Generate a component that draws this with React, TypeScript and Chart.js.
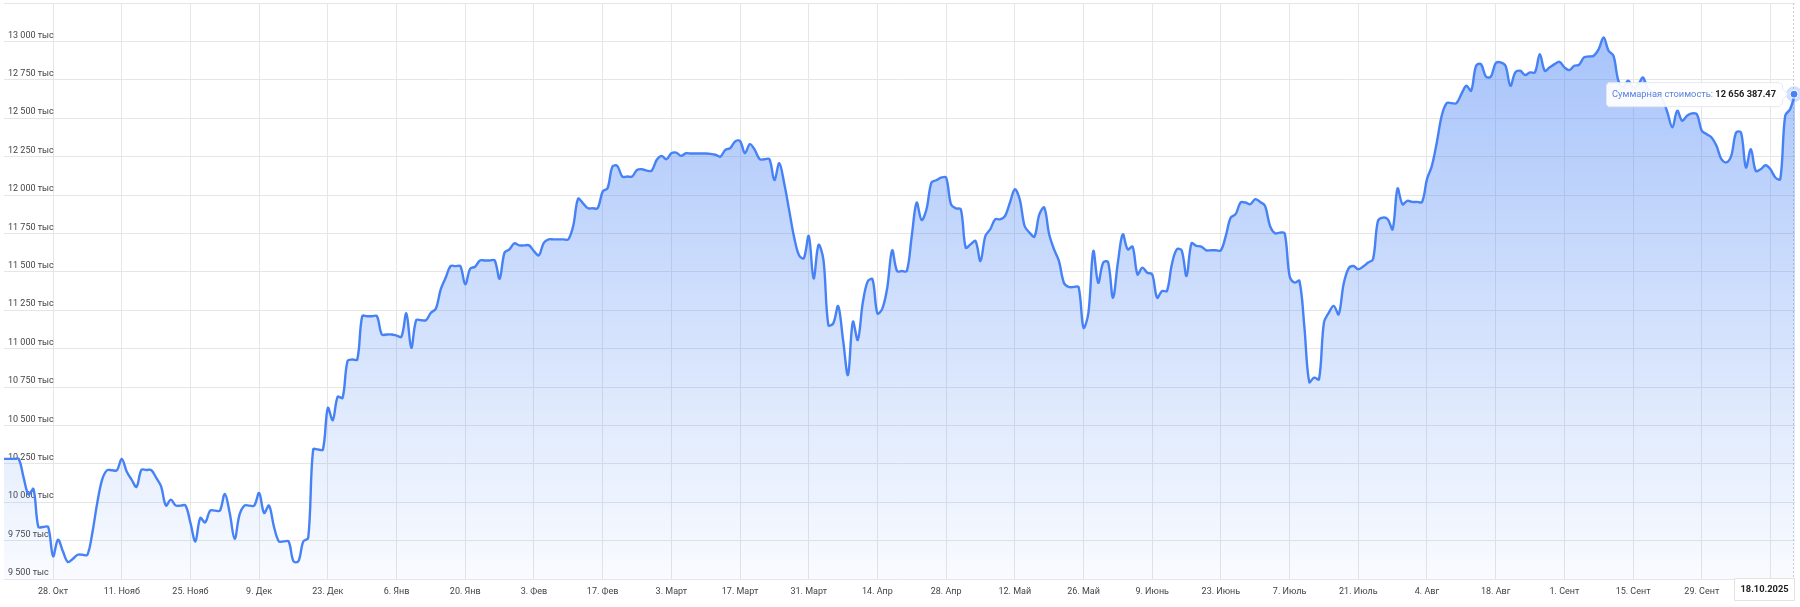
import React, { useEffect, useRef } from 'react';
import { Chart, registerables } from 'chart.js';

Chart.register(...registerables);

// Daily portfolio value (thousand RUB), one point per day from 18.10.2024 to 18.10.2025
const values: number[] = [
  10282, 10282, 10282, 10282, 10160, 10050, 10086, 9839, 9839, 9839,
  9648, 9756, 9680, 9611, 9630, 9658, 9658, 9658, 9800, 9995,
  10147, 10208, 10208, 10208, 10282, 10200, 10147, 10100, 10210, 10210,
  10210, 10160, 10104, 9978, 10017, 9978, 9978, 9978, 9865, 9745,
  9897, 9869, 9945, 9945, 9945, 10054, 9930, 9761, 9919, 9978,
  9978, 9978, 10060, 9930, 9978, 9843, 9745, 9745, 9745, 9615,
  9615, 9745, 9767, 10343, 10343, 10343, 10614, 10534, 10686, 10679,
  10918, 10929, 10929, 11211, 11211, 11211, 11211, 11092, 11092, 11092,
  11085, 11077, 11229, 11005, 11185, 11185, 11185, 11233, 11259, 11385,
  11461, 11537, 11537, 11537, 11418, 11520, 11533, 11574, 11574, 11574,
  11574, 11455, 11624, 11646, 11685, 11672, 11672, 11672, 11635, 11607,
  11689, 11711, 11711, 11711, 11711, 11711, 11798, 11976, 11946, 11914,
  11914, 11914, 12022, 12044, 12185, 12189, 12120, 12120, 12120, 12163,
  12168, 12159, 12159, 12228, 12255, 12233, 12272, 12276, 12255, 12272,
  12270, 12270, 12270, 12270, 12268, 12262, 12250, 12294, 12305, 12348,
  12352, 12272, 12331, 12294, 12233, 12233, 12233, 12098, 12207, 12076,
  11903, 11729, 11609, 11588, 11733, 11457, 11675, 11577, 11153, 11164,
  11277, 11056, 10828, 11175, 11056, 11295, 11436, 11451, 11229, 11260,
  11395, 11640, 11505, 11505, 11505, 11733, 11950, 11837, 11907, 12081,
  12096, 12113, 12113, 11939, 11913, 11907, 11657, 11679, 11700, 11570,
  11733, 11777, 11842, 11842, 11863, 11950, 12037, 11972, 11798, 11755,
  11729, 11874, 11918, 11744, 11646, 11570, 11429, 11401, 11401, 11401,
  11136, 11233, 11635, 11429, 11559, 11564, 11331, 11559, 11744, 11646,
  11664, 11483, 11527, 11494, 11483, 11331, 11375, 11375, 11548, 11646,
  11640, 11473, 11685, 11669, 11664, 11640, 11640, 11640, 11640, 11734,
  11853, 11875, 11951, 11951, 11940, 11973, 11955, 11929, 11799, 11751,
  11755, 11751, 11473, 11430, 11441, 11147, 10782, 10811, 10800, 11169,
  11234, 11278, 11223, 11419, 11521, 11538, 11517, 11534, 11560, 11582,
  11831, 11853, 11842, 11777, 12042, 11940, 11962, 11955, 11955, 11955,
  12103, 12190, 12342, 12516, 12598, 12598, 12598, 12657, 12711, 12679,
  12841, 12852, 12772, 12770, 12859, 12863, 12841, 12711, 12798, 12809,
  12781, 12798, 12798, 12917, 12809, 12831, 12852, 12867, 12831, 12813,
  12841, 12848, 12896, 12902, 12907, 12950, 13026, 12939, 12907, 12744,
  12700, 12744, 12700, 12715, 12765, 12694, 12670, 12650, 12624, 12537,
  12440, 12548, 12483, 12516, 12531, 12526, 12418, 12396, 12374, 12320,
  12233, 12212, 12255, 12407, 12407, 12179, 12298, 12157, 12168, 12194,
  12168, 12114, 12103, 12516, 12559, 12656.38747,
];

// X tick positions (day index) and their labels
const tickDays: number[] = [
  10, 24, 38, 52, 66, 80, 94, 108, 122, 136, 150, 164, 178,
  192, 206, 220, 234, 248, 262, 276, 290, 304, 318, 332, 346, 360,
];
const tickLabels: string[] = [
  '28. Окт', '11. Нояб', '25. Нояб', '9. Дек', '23. Дек', '6. Янв', '20. Янв',
  '3. Фев', '17. Фев', '3. Март', '17. Март', '31. Март', '14. Апр', '28. Апр',
  '12. Май', '26. Май', '9. Июнь', '23. Июнь', '7. Июль', '21. Июль', '4. Авг',
  '18. Авг', '1. Сент', '15. Сент', '29. Сент', '13. Окт',
];

const yMin = 9500;
const yMax = 13250;
const yStep = 250;
const ySuffix = ' тыс';
const seriesName = 'Суммарная стоимость';
const lastDateLabel = '18.10.2025';
const lastValueText = '12 656 387.47';

const LINE = 'rgb(70,130,245)';
const FONT = 'Roboto, "Noto Sans", sans-serif';

const groupThousands = (n: number) => String(n).replace(/\B(?=(\d{3})+(?!\d))/g, ' ');

const overlayPlugin = {
  id: 'overlay',
  beforeDatasetsDraw(chart: any) {
    const { ctx, chartArea, scales } = chart;
    const px = Math.round(scales.x.getPixelForValue(values.length - 1)) - 1.5;
    ctx.save();
    ctx.strokeStyle = '#cfcfcf';
    ctx.lineWidth = 1;
    ctx.setLineDash([2, 2]);
    ctx.beginPath();
    ctx.moveTo(px, chartArea.top);
    ctx.lineTo(px, chartArea.bottom);
    ctx.stroke();
    ctx.restore();
  },
  afterDraw(chart: any) {
    const { ctx, chartArea, scales } = chart;
    const last = values.length - 1;
    const px = scales.x.getPixelForValue(last);
    const py = scales.y.getPixelForValue(values[last]);
    ctx.save();
    // marker
    ctx.fillStyle = 'rgba(70,130,245,0.25)';
    ctx.beginPath();
    ctx.arc(px - 1, py, 8, 0, Math.PI * 2);
    ctx.fill();
    ctx.fillStyle = LINE;
    ctx.strokeStyle = '#ffffff';
    ctx.lineWidth = 1;
    ctx.beginPath();
    ctx.arc(px - 1, py, 4, 0, Math.PI * 2);
    ctx.fill();
    ctx.stroke();

    // tooltip
    const f1 = `9.3px ${FONT}`;
    const f2 = `bold 9.3px ${FONT}`;
    const t1 = seriesName + ': ';
    ctx.font = f1;
    const w1 = ctx.measureText(t1).width;
    ctx.font = f2;
    const w2 = ctx.measureText(lastValueText).width;
    const bw = w1 + w2 + 12;
    const bh = 24;
    const right = px - 13;
    const left = right - bw;
    const top = py - 12;
    ctx.fillStyle = 'rgba(255,255,255,0.92)';
    ctx.strokeStyle = '#e6e9ef';
    ctx.lineWidth = 1;
    ctx.beginPath();
    ctx.moveTo(left + 2.5, top + 0.5);
    ctx.lineTo(right - 2.5, top + 0.5);
    ctx.lineTo(right + 0.5, top + 3);
    ctx.lineTo(right + 0.5, py - 5);
    ctx.lineTo(right + 6, py);
    ctx.lineTo(right + 0.5, py + 5);
    ctx.lineTo(right + 0.5, top + bh - 3);
    ctx.lineTo(right - 2.5, top + bh + 0.5);
    ctx.lineTo(left + 2.5, top + bh + 0.5);
    ctx.lineTo(left + 0.5, top + bh - 2);
    ctx.lineTo(left + 0.5, top + 3);
    ctx.closePath();
    ctx.fill();
    ctx.stroke();
    ctx.textBaseline = 'middle';
    ctx.textAlign = 'left';
    ctx.font = f1;
    ctx.fillStyle = '#5b82dc';
    ctx.fillText(t1, left + 6, py + 1);
    ctx.font = f2;
    ctx.fillStyle = '#222222';
    ctx.fillText(lastValueText, left + 6 + w1, py + 1);

    // date label on x axis
    ctx.font = f2;
    const dw = ctx.measureText(lastDateLabel).width + 12;
    const dRight = chartArea.right - 1;
    const dLeft = dRight - dw;
    const dTop = chartArea.bottom - 1;
    const dH = 22;
    ctx.fillStyle = '#ffffff';
    ctx.strokeStyle = '#e3e3e3';
    ctx.beginPath();
    ctx.rect(Math.round(dLeft) + 0.5, dTop + 0.5, Math.round(dw), dH);
    ctx.fill();
    ctx.stroke();
    ctx.fillStyle = '#222222';
    ctx.textAlign = 'center';
    ctx.fillText(lastDateLabel, Math.round(dLeft) + dw / 2 + 0.5, dTop + dH / 2 + 1);
    ctx.restore();
  },
};

export default function App() {
  const canvasRef = useRef<HTMLCanvasElement | null>(null);

  useEffect(() => {
    document.body.style.margin = '0';
    const canvas = canvasRef.current;
    if (!canvas) return;
    const chart = new Chart(canvas, {
      type: 'line',
      data: {
        datasets: [
          {
            label: seriesName,
            data: values.map((v, i) => ({ x: i, y: v })),
            borderColor: LINE,
            borderWidth: 2.4,
            pointRadius: 0,
            pointHoverRadius: 0,
            tension: 0.35,
            fill: 'start',
            backgroundColor: (c: any) => {
              const { chart: ch } = c;
              const area = ch.chartArea;
              if (!area) return 'rgba(70,130,245,0.2)';
              const g = ch.ctx.createLinearGradient(0, area.top, 0, area.bottom);
              g.addColorStop(0, 'rgba(70,130,245,0.5)');
              g.addColorStop(1, 'rgba(70,130,245,0.03)');
              return g;
            },
          },
        ],
      },
      options: {
        animation: false,
        responsive: false,
        maintainAspectRatio: false,
        devicePixelRatio: 1,
        events: [],
        layout: { padding: { left: 4, right: 5, top: 3, bottom: 0 } },
        plugins: {
          legend: { display: false },
          tooltip: { enabled: false },
          title: { display: false },
        },
        scales: {
          x: {
            type: 'linear',
            min: 0,
            max: values.length - 1,
            afterBuildTicks: (scale: any) => {
              scale.ticks = tickDays.map((d) => ({ value: d }));
            },
            afterFit: (scale: any) => {
              scale.height = 28;
              scale.paddingLeft = 0;
              scale.paddingRight = 0;
            },
            grid: { color: '#e6e6e6', lineWidth: 1, drawTicks: false },
            border: { display: false },
            ticks: {
              autoSkip: false,
              maxRotation: 0,
              padding: 7,
              color: '#444444',
              font: { family: FONT, size: 9 },
              callback: (v: any) => {
                const i = tickDays.indexOf(Number(v));
                return i >= 0 ? tickLabels[i] : '';
              },
            },
          },
          y: {
            type: 'linear',
            min: yMin,
            max: yMax,
            afterFit: (scale: any) => {
              scale.width = 0;
              scale.paddingTop = 0;
              scale.paddingBottom = 0;
            },
            grid: { color: '#e6e6e6', lineWidth: 1, drawTicks: false },
            border: { display: false },
            ticks: {
              stepSize: yStep,
              mirror: true,
              padding: 4,
              labelOffset: -6,
              color: '#444444',
              font: { family: FONT, size: 9 },
              callback: (v: any) => (Number(v) >= yMax ? '' : groupThousands(Number(v)) + ySuffix),
            },
          },
        },
      },
      plugins: [overlayPlugin],
    } as any);
    return () => chart.destroy();
  }, []);

  return (
    <div style={{ width: 1800, height: 607 }}>
      <canvas ref={canvasRef} width={1800} height={607} style={{ display: 'block' }} />
    </div>
  );
}
